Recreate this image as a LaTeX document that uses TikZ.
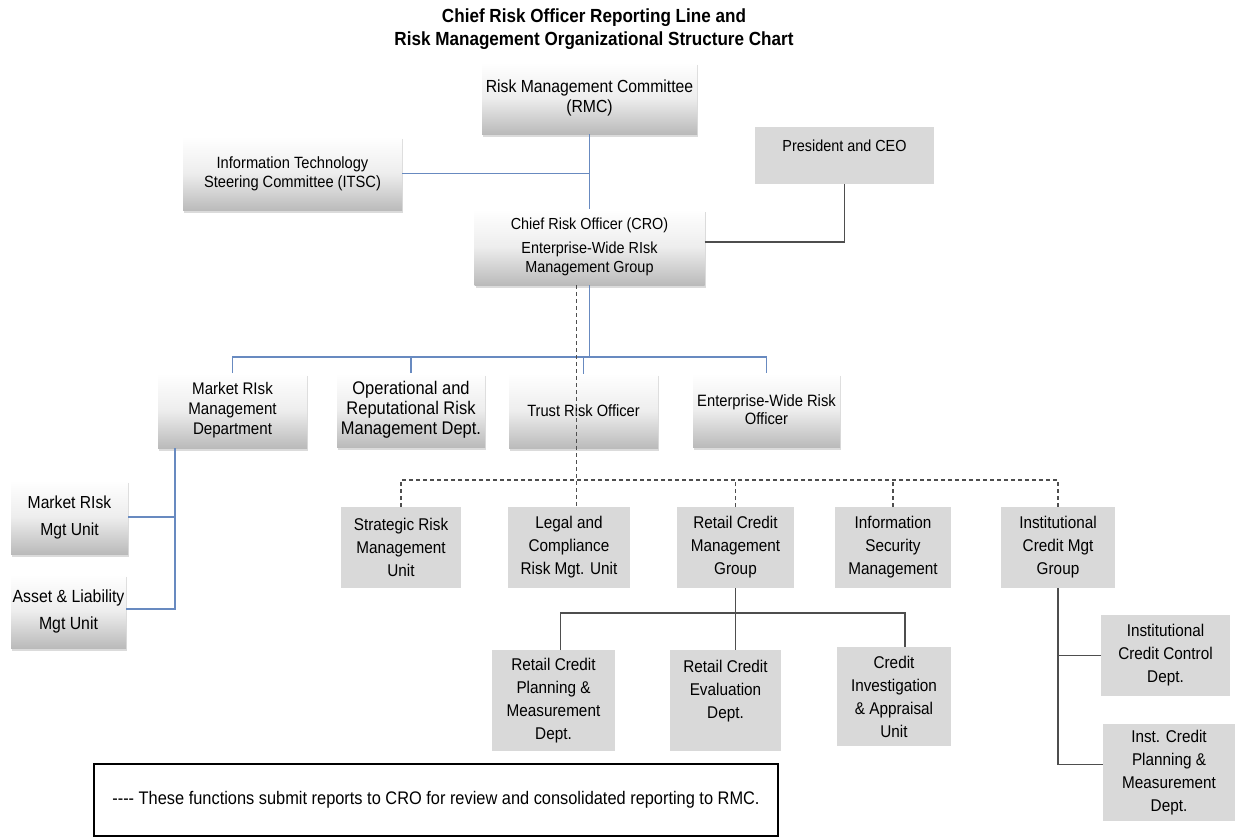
\documentclass[tikz,border=0pt]{standalone}
\usepackage{fontspec}
\setmainfont{Liberation Sans}[FakeStretch=0.9]
\usetikzlibrary{shadows}
\definecolor{linkblue}{RGB}{104,138,192}
\definecolor{linkgray}{RGB}{78,78,78}
\definecolor{flatfill}{RGB}{217,217,217}
\begin{document}
\begin{tikzpicture}[x=1pt,y=-1pt,
  every node/.style={align=center, inner sep=0pt, outer sep=0pt},
  gradbox/.style={font=\fontsize{17}{19}\selectfont,
    top color=white, bottom color=black!27, middle color=black!7,
    drop shadow={opacity=0.28, shadow xshift=1pt, shadow yshift=-2.5pt}},
  flatbox/.style={font=\fontsize{17}{23}\selectfont, fill=flatfill},
  bluelink/.style={draw=linkblue, line width=1.3pt},
  graylink/.style={draw=linkgray, line width=1.6pt},
  dashlink/.style={draw=linkgray, line width=1.5pt, dash pattern=on 4pt off 3pt}]
\useasboundingbox (0,0) rectangle (1243,838);
\fill[white] (0,0) rectangle (1243,838);

% heading
\node[font=\bfseries\fontsize{19}{23}\selectfont] (title) at (594,29)
  {Chief Risk Officer Reporting Line and\\Risk Management Organizational Structure Chart};

% committees and officers
\node[gradbox, font=\fontsize{17.5}{20}\selectfont, minimum width=215pt, minimum height=72pt] (rmc) at (589.5,98)
  {Risk Management Committee\\(RMC)};
\node[gradbox, font=\fontsize{16.3}{19}\selectfont, minimum width=219pt, minimum height=74pt] (itsc) at (292.5,173.5)
  {Information Technology\\Steering Committee (ITSC)};
\node[flatbox, font=\fontsize{16}{19}\selectfont, minimum width=179pt, minimum height=57pt] (pres) at (844.5,155.5)
  {President and CEO\\\mbox{}};
\node[gradbox, font=\fontsize{16}{19}\selectfont, minimum width=230pt, minimum height=76pt] (cro) at (589.5,247)
  {Chief Risk Officer (CRO)\\[5pt]Enterprise-Wide RIsk\\Management Group};

% departments reporting directly to the CRO
\node[gradbox, font=\fontsize{16.8}{20}\selectfont, minimum width=149pt, minimum height=75pt] (mrm) at (232.5,410.5)
  {Market RIsk\\Management\\Department};
\node[gradbox, font=\fontsize{18.3}{20}\selectfont, minimum width=148pt, minimum height=74pt] (orm) at (411,410)
  {Operational and\\Reputational Risk\\Management Dept.};
\node[gradbox, font=\fontsize{16.3}{19}\selectfont, minimum width=149pt, minimum height=75pt] (tro) at (583.5,411)
  {Trust Risk Officer};
\node[gradbox, font=\fontsize{16.4}{18}\selectfont, minimum width=147pt, minimum height=74pt] (ewo) at (766.5,410)
  {Enterprise-Wide Risk\\Officer};

% market risk units
\node[gradbox, font=\fontsize{17.4}{27}\selectfont, minimum width=117pt, minimum height=74pt] (mru) at (69.5,517)
  {Market RIsk\\Mgt Unit};
\node[gradbox, font=\fontsize{17.6}{27}\selectfont, minimum width=115pt, minimum height=74pt] (alu) at (68.5,611)
  {Asset \& Liability\\Mgt Unit};

% functions reporting to the CRO for review
\node[flatbox, minimum width=120pt, minimum height=81pt] (srm) at (401,547.5)
  {Strategic Risk\\Management\\Unit};
\node[flatbox, minimum width=122pt, minimum height=81pt] (lcr) at (569,547.5)
  {Legal and\\Compliance\\Risk Mgt. Unit};
\node[flatbox, minimum width=117pt, minimum height=81pt] (rcm) at (735.5,547.5)
  {Retail Credit\\Management\\Group};
\node[flatbox, minimum width=116pt, minimum height=81pt] (ism) at (893,547.5)
  {Information\\Security\\Management};
\node[flatbox, minimum width=114pt, minimum height=81pt] (icm) at (1058,547.5)
  {Institutional\\Credit Mgt\\Group};

% retail credit units
\node[flatbox, minimum width=123pt, minimum height=101pt] (rcp) at (553.5,700.5)
  {Retail Credit\\Planning \&\\Measurement\\Dept.};
\node[flatbox, minimum width=111pt, minimum height=101pt] (rce) at (725.5,700.5)
  {Retail Credit\\Evaluation\\Dept.\\\mbox{}};
\node[flatbox, minimum width=114pt, minimum height=99pt] (cia) at (894,696.5)
  {Credit\\Investigation\\\& Appraisal\\Unit};

% institutional credit units
\node[flatbox, minimum width=129pt, minimum height=81pt] (icc) at (1165.5,655.5)
  {Institutional\\Credit Control\\Dept.};
\node[flatbox, minimum width=132pt, minimum height=97pt] (icp) at (1169,772.5)
  {Inst. Credit\\Planning \&\\Measurement\\Dept.};

% legend
\node[draw=black, line width=2pt, minimum width=684pt, minimum height=72pt,
  font=\fontsize{18.2}{20}\selectfont] (legend) at (436,800)
  {-{}-{}-{}- These functions submit reports to CRO for review and consolidated reporting to RMC.};

% solid reporting lines
\coordinate (bus) at (0,357);
\draw[bluelink] (rmc.south) -- (cro.north);
\draw[bluelink] (itsc.east) -- (itsc.east -| rmc.south);
\draw[graylink] ([yshift=5pt]cro.east) -| (pres.south);
\draw[bluelink] (cro.south) -- (cro.south |- bus);
\draw[bluelink] (mrm.north) -- (mrm.north |- bus) -- (ewo.north |- bus) -- (ewo.north);
\draw[bluelink] (orm.north) -- (orm.north |- bus);
\draw[bluelink] (tro.north) -- (tro.north |- bus);

\coordinate (mtop) at ([xshift=17pt]mrm.south west);
\draw[bluelink] (mtop) |- ([yshift=2pt]alu.east);
\draw[bluelink] (mru.east) -- (mru.east -| mtop);

% dashed review lines
\coordinate (dbus) at (0,480);
\draw[dashlink] ([xshift=-13pt]cro.south) -- ([xshift=-13pt]cro.south |- lcr.north);
\draw[dashlink] (srm.north) -- (srm.north |- dbus) -- (icm.north |- dbus) -- (icm.north);
\draw[dashlink] (rcm.north) -- (rcm.north |- dbus);
\draw[dashlink] (ism.north) -- (ism.north |- dbus);

% retail credit branch
\coordinate (rbus) at (0,613);
\draw[graylink] (rcm.south) -- (rcm.south |- rce.north);
\draw[graylink] ([xshift=7pt]rcp.north) -- ([xshift=7pt]rcp.north |- rbus)
  -- ([xshift=11pt]cia.north |- rbus) -- ([xshift=11pt]cia.north);

% institutional credit branch
\draw[graylink] (icm.south) |- ([yshift=8pt]icp.west);
\draw[graylink] (icc.west) -- (icc.west -| icm.south);
\end{tikzpicture}
\end{document}
